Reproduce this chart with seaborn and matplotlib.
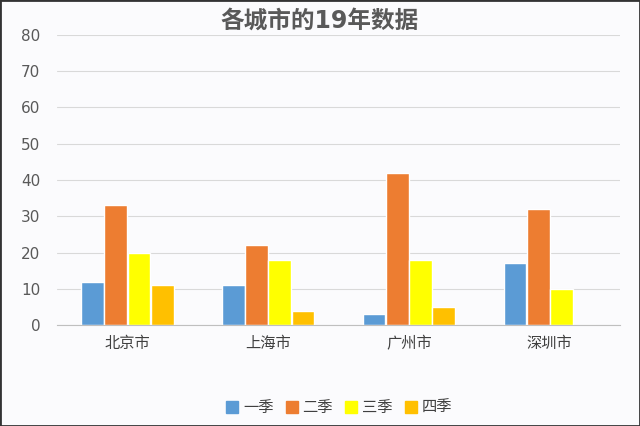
import matplotlib
matplotlib.use("Agg")
import matplotlib.pyplot as plt
import seaborn as sns
import pandas as pd
from matplotlib.patches import Rectangle
from matplotlib.lines import Line2D

categories = ["北京市", "上海市", "广州市", "深圳市"]
series = ["一季", "二季", "三季", "四季"]
v1 = [12, 11, 3, 17]
v2 = [33, 22, 42, 32]
v3 = [20, 18, 18, 10]
v4 = [11, 4, 5, 0]
title = "各城市的19年数据"
colors = ["#5B9BD5", "#ED7D31", "#FFFF00", "#FFC000"]

rows = []
for s, vals in zip(series, [v1, v2, v3, v4]):
    for c, v in zip(categories, vals):
        rows.append({"cat": c, "series": s, "value": v})
df = pd.DataFrame(rows)

sns.set_theme(style="white")
plt.rcParams["font.family"] = ["DejaVu Sans", "Noto Sans CJK SC"]

bg = "#FBFBFD"
fig = plt.figure(figsize=(6.4, 4.26), dpi=100, facecolor=bg)
ax = fig.add_axes([0.089, 0.237, 0.88, 0.681])
ax.set_facecolor(bg)

sns.barplot(data=df, x="cat", y="value", hue="series", palette=colors,
            order=categories, hue_order=series, width=0.66, gap=0.02,
            saturation=1, ax=ax, legend=False)

ax.set_ylim(0, 80)
ax.set_yticks(range(0, 81, 10))
ax.yaxis.grid(True, color="#D9D9D9", linewidth=0.8)
ax.set_axisbelow(True)
for sp in ["left", "right", "top"]:
    ax.spines[sp].set_visible(False)
ax.spines["bottom"].set_color("#BFBFBF")
ax.spines["bottom"].set_linewidth(0.8)
ax.tick_params(axis="y", length=0, pad=12, labelsize=11, labelcolor="#595959")
ax.tick_params(axis="x", length=0, pad=8, labelsize=11, labelcolor="#404040")
ax.set_xlabel("")
ax.set_ylabel("")

fig.text(0.5, 0.952, title, ha="center", va="center", fontsize=17,
         fontweight="bold", color="#595959")

handles = [Line2D([0], [0], marker="s", linestyle="", markersize=8,
                  markerfacecolor=c, markeredgecolor=c) for c in colors]
fig.legend(handles, series, loc="center", bbox_to_anchor=(0.53, 0.043),
           ncol=4, frameon=False, fontsize=11, handlelength=0.8,
           handletextpad=0.3, columnspacing=0.8, labelcolor="#404040")

fig.patches.append(Rectangle((0, 0), 1, 1, transform=fig.transFigure,
                             fill=False, edgecolor="#333333", linewidth=2))

fig.savefig("out.png", dpi=100, facecolor=bg)
